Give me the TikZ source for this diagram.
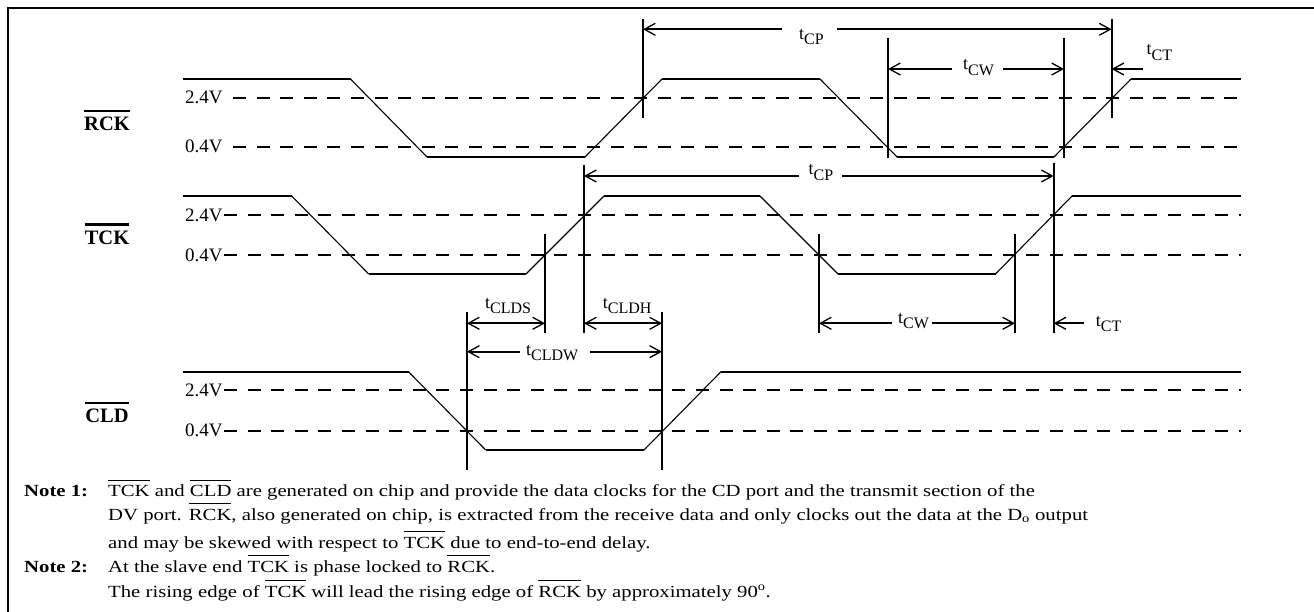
\documentclass[tikz,border=0pt]{standalone}
\usepackage{fontspec}
\setmainfont{Liberation Serif}
\newfontfamily\notefont[FakeStretch=1.22]{Liberation Serif}
\usetikzlibrary{arrows.meta}
\newcommand\olx[1]{\vbox{\hrule height 1pt\kern 4.5pt\hbox{#1}}}
\newcommand\olb[1]{\vbox{\hrule height 2.3pt\kern 5pt\hbox{#1}}}
\newcommand\tlab[1]{{\fontsize{18}{18}\selectfont t\raisebox{-5.5pt}{\fontsize{16}{16}\selectfont #1}}}
\tikzset{
  hi/.style={line width=2.1pt, line cap=butt},
  slope/.style={line width=1.1pt},
  lvl/.style={line width=1.7pt, dash pattern=on 13pt off 10.6pt},
  vmark/.style={line width=1.8pt},
  arr/.style={line width=1.8pt, -{Straight Barb[length=11pt,width=12pt,line width=1.3pt]}},
  darr/.style={line width=1.8pt, {Straight Barb[length=11pt,width=12pt,line width=1.3pt]}-{Straight Barb[length=11pt,width=12pt,line width=1.3pt]}},
  vlab/.style={anchor=west, inner sep=0pt, font=\fontsize{19}{19}\selectfont},
  sig/.style={anchor=base, inner sep=0pt, font=\fontsize{20.5}{20.5}\selectfont\bfseries},
  tl/.style={anchor=base west, inner sep=0pt},
  note/.style={anchor=base west, inner sep=0pt, font=\notefont\fontsize{17}{17}\selectfont},
  notehead/.style={anchor=base west, inner sep=0pt, font=\notefont\fontsize{17}{17}\selectfont\bfseries},
}
\begin{document}
\begin{tikzpicture}[x=1pt,y=-1pt]
\useasboundingbox (0,0) rectangle (1314,612);
% frame
\draw[line width=2pt] (7.5,630) -- (7.5,8.5) -- (1330,8.5);

% signal names
\node[sig] (nrck) at (107,131) {\olb{RCK}};
\node[sig] (ntck) at (107,244.3) {\olb{TCK}};
\node[sig] (ncld) at (107,422.7) {\olb{CLD}};

% level labels
\node[vlab] (r24) at (185,97.7) {2.4V};
\node[vlab] (r04) at (185,146.7) {0.4V};
\node[vlab] (t24) at (185,215) {2.4V};
\node[vlab] (t04) at (185,255) {0.4V};
\node[vlab] (c24) at (185,390) {2.4V};
\node[vlab] (c04) at (185,430.7) {0.4V};

% dashed levels
\draw[lvl] (233,97.7) -- (1241,97.7);
\draw[lvl] (233,146.7) -- (1241,146.7);
\draw[lvl] (224,215) -- (1241,215);
\draw[lvl] (224,255) -- (1241,255);
\draw[lvl] (224,390) -- (1241,390);
\draw[lvl] (224,430.7) -- (1241,430.7);

% RCK waveform
\draw[hi] (183,79) -- (350.5,79);
\draw[slope] (350.5,79) -- (427,157);
\draw[hi] (427,157) -- (585,157);
\draw[slope] (585,157) -- (662,79);
\draw[hi] (662,79) -- (820,79);
\draw[slope] (820,79) -- (897,157);
\draw[hi] (897,157) -- (1054,157);
\draw[slope] (1054,157) -- (1131,79);
\draw[hi] (1131,79) -- (1241,79);

% TCK waveform
\draw[hi] (183,196) -- (291.7,196);
\draw[slope] (291.7,196) -- (368.7,274);
\draw[hi] (368.7,274) -- (526,274);
\draw[slope] (526,274) -- (604,196);
\draw[hi] (604,196) -- (760,196);
\draw[slope] (760,196) -- (838,274);
\draw[hi] (838,274) -- (995.5,274);
\draw[slope] (995.5,274) -- (1072,196);
\draw[hi] (1072,196) -- (1241,196);

% CLD waveform
\draw[hi] (183,371.7) -- (408.5,371.7);
\draw[slope] (408.5,371.7) -- (485.7,450);
\draw[hi] (485.7,450) -- (644,450);
\draw[slope] (644,450) -- (721,371.7);
\draw[hi] (721,371.7) -- (1241,371.7);

% vertical markers
\coordinate (v1t) at (643,19);    \coordinate (v1b) at (643,118);
\coordinate (v2t) at (1111.6,19); \coordinate (v2b) at (1111.6,118);
\coordinate (v3t) at (888,38);    \coordinate (v3b) at (888,158);
\coordinate (v4t) at (1064,38);   \coordinate (v4b) at (1064,158);
\coordinate (v5t) at (584,165);   \coordinate (v5b) at (584,333);
\coordinate (v6t) at (1053.6,163);\coordinate (v6b) at (1053.6,333);
\coordinate (v7t) at (545,234);   \coordinate (v7b) at (545,333);
\coordinate (v8t) at (819,234);   \coordinate (v8b) at (819,333);
\coordinate (v9t) at (1015,234);  \coordinate (v9b) at (1015,333);
\coordinate (v10t) at (467,312);  \coordinate (v10b) at (467,470);
\coordinate (v11t) at (662,312);  \coordinate (v11b) at (662,470);
\foreach \i in {1,...,11} \draw[vmark] (v\i t) -- (v\i b);

% tCP (RCK)
\node[tl] (lcp1) at (799,39.3) {\tlab{CP}};
\coordinate (cp1a) at (643,29.3); \coordinate (cp1b) at (782,29.3);
\coordinate (cp1c) at (837,29.3); \coordinate (cp1d) at (1111.6,29.3);
\draw[arr] (cp1b) -- (cp1a);
\draw[arr] (cp1c) -- (cp1d);
% tCW (RCK)
\node[tl] (lcw1) at (963,70) {\tlab{CW}};
\coordinate (cw1a) at (888,69); \coordinate (cw1b) at (951.7,69);
\coordinate (cw1c) at (1003,69); \coordinate (cw1d) at (1064,69);
\draw[arr] (cw1b) -- (cw1a);
\draw[arr] (cw1c) -- (cw1d);
% tCT (RCK)
\node[tl] (lct1) at (1146.5,55) {\tlab{CT}};
\coordinate (ct1a) at (1143,69); \coordinate (ct1b) at (1111.6,69);
\draw[arr] (ct1a) -- (ct1b);

% tCP (TCK)
\node[tl] (lcp2) at (808.5,175) {\tlab{CP}};
\coordinate (cp2a) at (584,176); \coordinate (cp2b) at (799,176);
\coordinate (cp2c) at (842,176); \coordinate (cp2d) at (1053.6,176);
\draw[arr] (cp2b) -- (cp2a);
\draw[arr] (cp2c) -- (cp2d);
% tCW (TCK)
\node[tl] (lcw2) at (898,323.3) {\tlab{CW}};
\coordinate (cw2a) at (819,323.3); \coordinate (cw2b) at (891.5,323.3);
\coordinate (cw2c) at (932,323.3); \coordinate (cw2d) at (1015,323.3);
\draw[arr] (cw2b) -- (cw2a);
\draw[arr] (cw2c) -- (cw2d);
% tCT (TCK)
\node[tl] (lct2) at (1095.7,326) {\tlab{CT}};
\coordinate (ct2a) at (1083.7,323.3); \coordinate (ct2b) at (1053.6,323.3);
\draw[arr] (ct2a) -- (ct2b);

% CLD timings
\node[tl] (lclds) at (485,308.3) {\tlab{CLDS}};
\node[tl] (lcldh) at (602.7,308.3) {\tlab{CLDH}};
\coordinate (sa) at (467,323.3); \coordinate (sb) at (545,323.3);
\coordinate (ha) at (584,323.3); \coordinate (hb) at (662,323.3);
\draw[darr] (sa) -- (sb);
\draw[darr] (ha) -- (hb);
\node[tl] (lcldw) at (526,355) {\tlab{CLDW}};
\coordinate (wa) at (467,351.7); \coordinate (wb) at (520,351.7);
\coordinate (wc) at (590,351.7); \coordinate (wd) at (662,351.7);
\draw[arr] (wb) -- (wa);
\draw[arr] (wc) -- (wd);

% notes
\node[notehead] (n1) at (24,496.5) {Note 1:};
\node[note] (n1a) at (108,496.5) {\olx{TCK} and \olx{CLD} are generated on chip and provide the data clocks for the CD port and the transmit section of the};
\node[note] (n1b) at (108,520) {DV port. \olx{RCK}, also generated on chip, is extracted from the receive data and only clocks out the data at the D\textsubscript{o} output};
\node[note] (n1c) at (108,548) {and may be skewed with respect to \olx{TCK} due to end-to-end delay.};
\node[notehead] (n2) at (24,572) {Note 2:};
\node[note] (n2a) at (108,572) {At the slave end \olx{TCK} is phase locked to \olx{RCK}.};
\node[note] (n2b) at (108,597) {The rising edge of \olx{TCK} will lead the rising edge of \olx{RCK} by approximately 90\textsuperscript{o}.};
\end{tikzpicture}
\end{document}
